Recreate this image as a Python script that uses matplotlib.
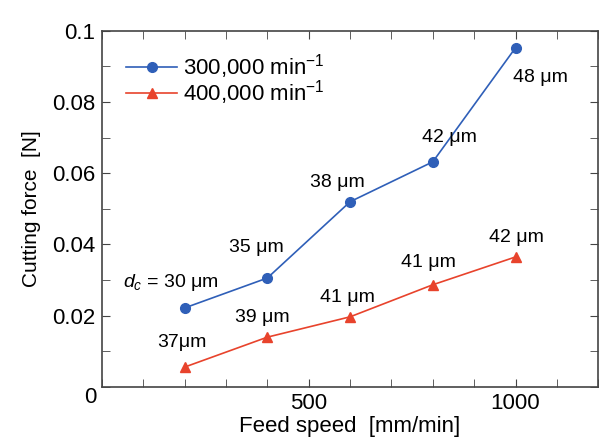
import matplotlib
matplotlib.use("Agg")
import matplotlib.pyplot as plt
from matplotlib.ticker import MultipleLocator

# feed speed [mm/min]
feed = [200, 400, 600, 800, 1000]
# cutting force [N]
force_300k = [0.0222, 0.0306, 0.0520, 0.0632, 0.0952]
force_400k = [0.0056, 0.0140, 0.0197, 0.0287, 0.0365]
# chip / cut depth labels
dc_300k = ["$d_c$ = 30 μm", "35 μm", "38 μm", "42 μm", "48 μm"]
dc_400k = ["37μm", "39 μm", "41 μm", "41 μm", "42 μm"]

blue = "#2f5fb8"
red = "#e8432c"

plt.rcParams['font.family'] = ['Liberation Sans', 'DejaVu Sans']
plt.rcParams['mathtext.fontset'] = 'custom'
plt.rcParams['mathtext.rm'] = 'Liberation Sans'
plt.rcParams['mathtext.it'] = 'Liberation Sans:italic'

fig = plt.figure(figsize=(6, 4.41), dpi=100)
ax = fig.add_axes([0.17, 0.1224, 0.827, 0.808])

ax.plot(feed, force_300k, '-o', color=blue, lw=1.2, ms=7,
        label="300,000 min$^{-1}$")
ax.plot(feed, force_400k, '-^', color=red, lw=1.2, ms=7,
        label="400,000 min$^{-1}$")

# label offsets in pixels (dx, dy), converted to points
off_300k = [(-14, 25), (-11, 30), (-13, 19), (17, 24), (25, -30)]
off_400k = [(-3, 25), (-5, 20), (-3, 19), (-4, 22), (1, 19)]
for x, y, s, o in zip(feed, force_300k, dc_300k, off_300k):
    ax.annotate(s, (x, y), xytext=(o[0] * 0.72, o[1] * 0.72),
                textcoords='offset points', ha='center', va='center',
                fontsize=14)
for x, y, s, o in zip(feed, force_400k, dc_400k, off_400k):
    ax.annotate(s, (x, y), xytext=(o[0] * 0.72, o[1] * 0.72),
                textcoords='offset points', ha='center', va='center',
                fontsize=14)

ax.set_xlim(0, 1200)
ax.set_ylim(0, 0.1)
ax.xaxis.set_minor_locator(MultipleLocator(100))
ax.yaxis.set_minor_locator(MultipleLocator(0.01))
ax.set_xticks([500, 1000])
ax.set_xticklabels(["500", "1000"])
ax.set_yticks([0.02, 0.04, 0.06, 0.08, 0.1])
ax.set_yticklabels(["0.02", "0.04", "0.06", "0.08", "0.1"])
ax.tick_params(which='both', direction='in', top=True, right=True,
               labelsize=16, color='#444444', length=6)
ax.tick_params(axis='y', pad=5)
ax.tick_params(axis='x', pad=4)
ax.text(-0.012, -0.03, "0", transform=ax.transAxes, ha='right', va='center',
        fontsize=16)

for sp in ax.spines.values():
    sp.set_color('#444444')
    sp.set_linewidth(1.2)

ax.set_xlabel("Feed speed  [mm/min]", fontsize=16, labelpad=2)
ax.set_ylabel("Cutting force  [N]", fontsize=15, labelpad=8)

ax.legend(loc='upper left', frameon=False, fontsize=16, handlelength=2.3,
          handletextpad=0.25, labelspacing=-0.12, borderaxespad=0.0,
          bbox_to_anchor=(0.031, 0.965))

fig.savefig("out.png", dpi=100)
